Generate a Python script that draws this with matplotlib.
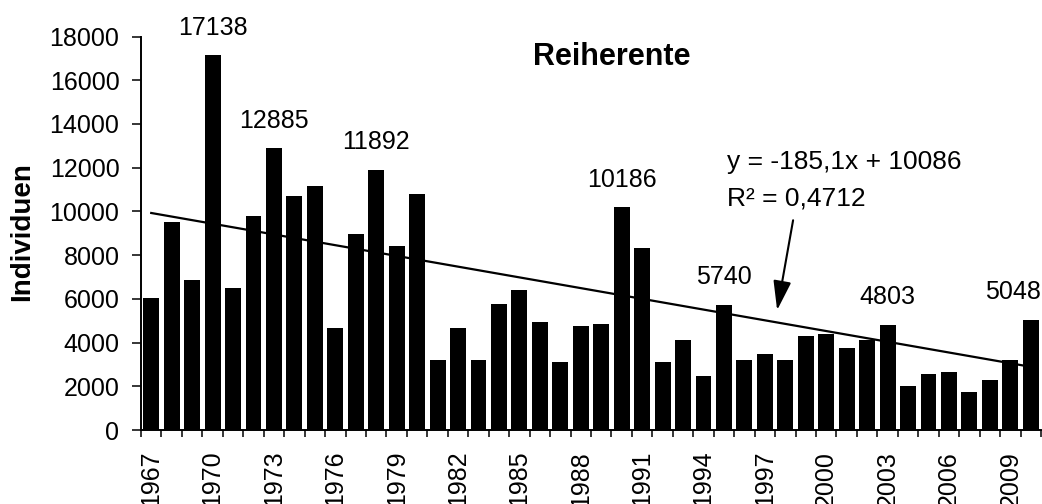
import numpy as np
import matplotlib
matplotlib.use("Agg")
import matplotlib.pyplot as plt

plt.rcParams['font.family'] = ['Liberation Sans', 'DejaVu Sans']

# Reiherente counts per year
years = list(range(1967, 2011))
counts = [6050, 9500, 6850, 17138, 6500, 9780, 12885, 10700, 11160, 4680,
          8970, 11892, 8420, 10800, 3210, 4680, 3210, 5770, 6410, 4950,
          3120, 4770, 4860, 10186, 8330, 3120, 4130, 2480, 5740, 3210,
          3490, 3210, 4310, 4400, 3760, 4130, 4803, 2020, 2570, 2660,
          1750, 2300, 3210, 5048]
labelled_years = [1970, 1973, 1978, 1990, 1995, 2003, 2010]
tick_years = list(range(1967, 2011, 3))

# trend line as drawn in the chart
trend_years = [1967, 2010]
trend_values = [9927, 2890]
equation_text = "y = -185,1x + 10086"
r2_text = "R² = 0,4712"

fig = plt.figure(figsize=(10.42, 5.04), dpi=100)
ax = fig.add_axes([141 / 1042, 74 / 504, 900 / 1042, 393.5 / 504])

x = np.arange(len(years))
ax.plot([years.index(y) for y in trend_years], trend_values, color='black', lw=1.6, zorder=1)
ax.bar(x, counts, width=0.78, color='black', zorder=2)

for yr in labelled_years:
    i = years.index(yr)
    dx = -13 if yr == 2010 else 0
    ax.annotate(str(counts[i]), (i, counts[i]), xytext=(dx, 20), textcoords='offset points',
                ha='center', va='center', fontsize=18, annotation_clip=False)

ax.text(22.53, 17040, "Reiherente", fontsize=22, fontweight='bold', ha='center', va='center')
ax.text(28.16, 12244, equation_text, fontsize=19, ha='left', va='center')
ax.text(28.16, 10599, r2_text, fontsize=19, ha='left', va='center')
ax.annotate("", xy=(30.6, 5482), xytext=(31.38, 9594),
            arrowprops=dict(arrowstyle='-|>,head_length=1.8,head_width=0.55', color='black',
                            lw=1.5, shrinkA=0, shrinkB=0))

ax.set_xlim(-0.5, len(years) - 0.5)
ax.set_ylim(0, 18000)
ax.set_yticks(np.arange(0, 18001, 2000))
ax.set_xticks([years.index(y) for y in tick_years])
ax.set_xticklabels([str(y) for y in tick_years], rotation=90, va='top')
ax.set_xticks(np.arange(-0.5, len(years), 1), minor=True)
ax.tick_params(axis='x', which='major', length=0, pad=15, labelsize=18)
ax.tick_params(axis='x', which='minor', length=5, width=1.1, direction='out')
ax.tick_params(axis='y', length=6.5, width=1.1, pad=9, labelsize=18)
fig.text(22 / 1042, 1 - 232 / 504, "Individuen", fontsize=20, fontweight='bold',
         rotation=90, ha='center', va='center')

for s in ['top', 'right']:
    ax.spines[s].set_visible(False)
for s in ['left', 'bottom']:
    ax.spines[s].set_linewidth(1.4)

fig.savefig("out.png", dpi=100)
